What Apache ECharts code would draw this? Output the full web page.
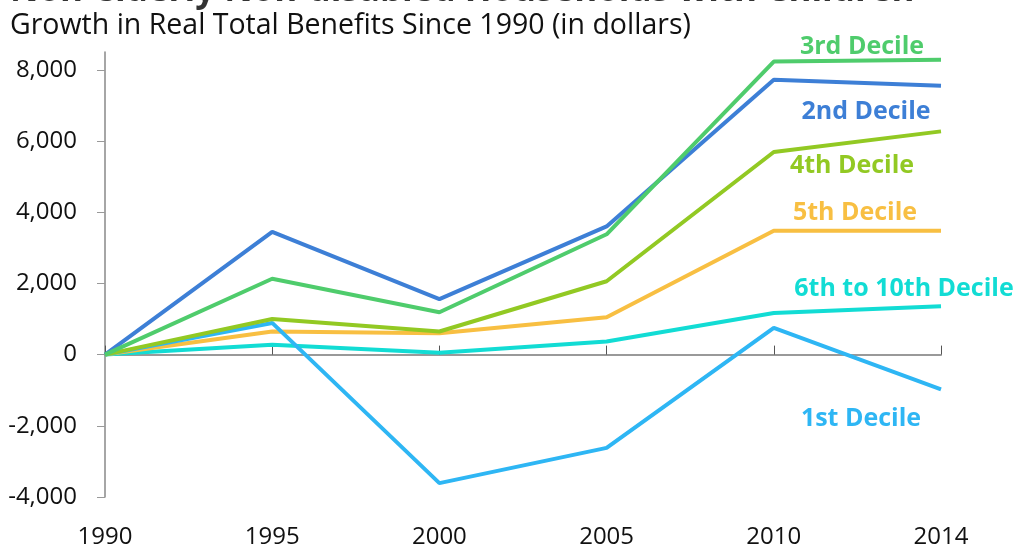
<!DOCTYPE html>
<html>
<head>
<meta charset="utf-8">
<script src="https://cdn.jsdelivr.net/npm/echarts@6/dist/echarts.min.js"></script>
<style>
  html, body { margin: 0; padding: 0; background: #fff; }
  #chart { width: 1021px; height: 548px; }
</style>
</head>
<body>
<div id="chart"></div>
<script>
// years on the x axis
var years = ['1990', '1995', '2000', '2005', '2010', '2014'];
var yTicks = [-4000, -2000, 0, 2000, 4000, 6000, 8000];

// growth in real total benefits since 1990, by decile
var decile3 = [0, 2130, 1190, 3380, 8230, 8280];
var decile2 = [0, 3450, 1560, 3600, 7720, 7550];
var decile4 = [0, 1000, 650, 2060, 5690, 6270];
var decile5 = [0, 650, 600, 1050, 3480, 3480];
var decile6to10 = [0, 280, 50, 370, 1170, 1360];
var decile1 = [0, 890, -3610, -2620, 750, -980];

var fontFam = '"Open Sans", "DejaVu Sans", sans-serif';

function makeSeries(name, data, color, off) {
  var d = data.slice();
  // label sits next to the final point
  d[d.length - 1] = {
    value: data[data.length - 1],
    label: {
      show: true,
      position: 'inside',
      offset: off,
      formatter: name,
      color: color,
      fontFamily: fontFam,
      fontWeight: 'bold',
      fontSize: 25
    }
  };
  return {
    name: name,
    type: 'line',
    data: d,
    symbol: 'circle',
    symbolSize: 0,
    showSymbol: true,
    lineStyle: { width: 4, color: color },
    itemStyle: { color: color },
    label: { show: false },
    emphasis: { disabled: true },
    animation: false
  };
}

var chart = echarts.init(document.getElementById('chart'));
chart.setOption({
  backgroundColor: '#fff',
  animation: false,
  graphic: [
    {
      type: 'text', left: 10, top: -26,
      style: {
        text: 'Non-elderly Non-disabled Households with Children',
        font: 'bold 35px ' + fontFam, fill: '#333'
      }
    },
    {
      type: 'text', left: 10, top: 11,
      style: {
        text: 'Growth in Real Total Benefits Since 1990 (in dollars)',
        font: '28.5px ' + fontFam, fill: '#111'
      }
    }
  ],
  grid: { left: 105, right: 80, top: 52, bottom: 51, containLabel: false, outerBoundsMode: 'none' },
  xAxis: [
    {
      type: 'category',
      data: years,
      boundaryGap: false,
      axisLine: { onZero: true, lineStyle: { color: '#999', width: 2 } },
      axisTick: { show: true, inside: true, length: 9, lineStyle: { color: '#555', width: 1 } },
      axisLabel: { show: false },
      splitLine: { show: false }
    },
    {
      type: 'category',
      data: years,
      boundaryGap: false,
      position: 'bottom',
      axisLine: { show: false },
      axisTick: { show: false },
      axisLabel: { color: '#111', fontSize: 24, fontFamily: fontFam, margin: 28 },
      splitLine: { show: false }
    }
  ],
  yAxis: {
    type: 'value',
    min: -4000,
    max: 8500,
    interval: 2000,
    axisLine: { show: true, lineStyle: { color: '#888', width: 1.5 } },
    axisTick: { show: true, length: 8, customValues: yTicks, lineStyle: { color: '#999' } },
    axisLabel: {
      color: '#111', fontSize: 24, fontFamily: fontFam, margin: 28,
      customValues: yTicks,
      formatter: function (v) { return v.toLocaleString('en-US'); }
    },
    splitLine: { show: false }
  },
  series: [
    makeSeries('6th to 10th Decile', decile6to10, '#12dcd4', [-37, -17]),
    makeSeries('5th Decile', decile5, '#f8bf42', [-86, -18]),
    makeSeries('1st Decile', decile1, '#2eb6f4', [-80, 29]),
    makeSeries('4th Decile', decile4, '#92c923', [-89, 34]),
    makeSeries('2nd Decile', decile2, '#3d7fd6', [-75, 26]),
    makeSeries('3rd Decile', decile3, '#4fcc6c', [-79, -13])
  ]
});
</script>
</body>
</html>
